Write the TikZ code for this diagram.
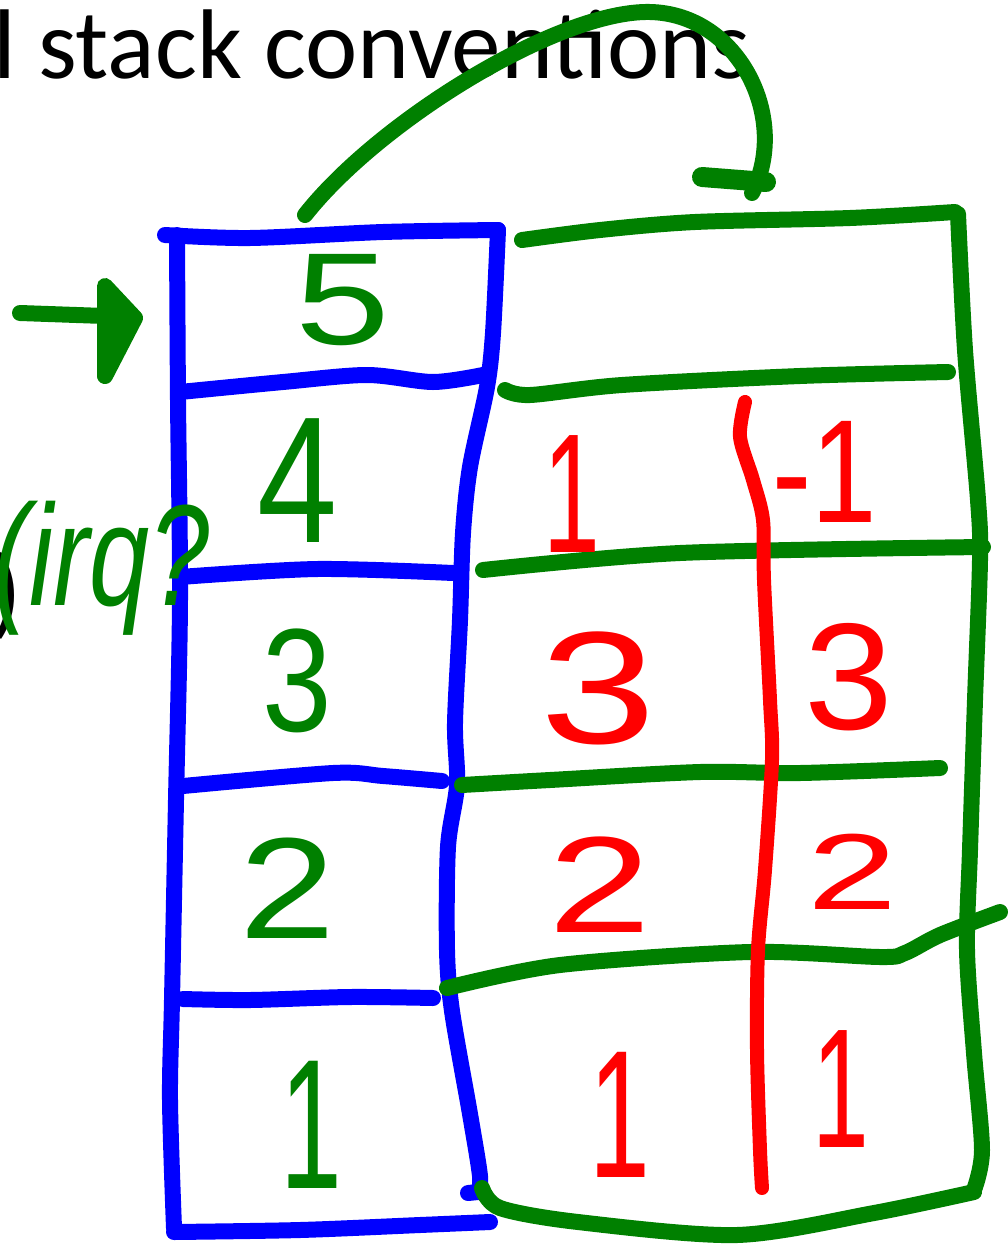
\documentclass[tikz,border=0pt]{standalone}
\usepackage{fontspec}
\setmainfont{Liberation Sans}
\newfontfamily\titlefont{Carlito}
\usepackage{graphicx}
\definecolor{pblue}{RGB}{0,0,255}
\definecolor{pgreen}{RGB}{0,128,0}
\definecolor{pred}{RGB}{255,0,0}
\newcommand{\hwdigit}[2]{\scalebox{#1}[1]{#2}}
\tikzset{
  pen/.style={line width=16pt, line cap=round, line join=round},
  bluepen/.style={pen, draw=pblue},
  greenpen/.style={pen, draw=pgreen},
  redpen/.style={pen, draw=pred, line width=14pt},
  hand/.style={inner sep=0pt, font=\fontsize{#1}{#1}\selectfont},
  gdigit/.style={hand=#1, text=pgreen},
  rdigit/.style={hand=#1, text=pred},
}
\begin{document}
\begin{tikzpicture}[x=1pt,y=-1pt]
\useasboundingbox (0,0) rectangle (1007,1245);
% title (cropped slide text)
\node[inner sep=0pt, anchor=base west, font=\titlefont\fontsize{99}{99}\selectfont] (title) at (-7,78) {l stack conventions};
\node[inner sep=0pt, anchor=base east, font=\titlefont\fontsize{100}{100}\selectfont] (paren) at (22,625) {)};

% blue stack
\draw[bluepen] plot[smooth, tension=0.5] coordinates {(165,235) (250,238) (383,232) (498,230)};
\draw[bluepen] plot[smooth, tension=0.5] coordinates {(498,230) (493,333) (487,387) (470,467) (463,533) (460,620) (455,723) (457,785) (448,847) (447,950) (452,1011) (470,1114) (480,1176) (478,1192)};
\draw[bluepen] (478,1192) -- (468,1193);
\draw[bluepen] plot[smooth, tension=0.5] coordinates {(177,235) (178,400) (180,600) (176,800) (172,1000) (170,1100) (174,1228)};
\draw[bluepen] plot[smooth, tension=0.5] coordinates {(174,1232) (300,1230) (420,1225) (490,1222)};
\draw[bluepen] plot[smooth, tension=0.5] coordinates {(180,392) (283,382) (367,375) (433,382) (483,375)};
\draw[bluepen] plot[smooth, tension=0.5] coordinates {(180,577) (317,569) (453,573)};
\draw[bluepen] plot[smooth, tension=0.5] coordinates {(183,786) (333,773) (383,776) (442,781)};
\draw[bluepen] plot[smooth, tension=0.5] coordinates {(183,999) (250,1000) (350,997) (433,998)};

% green stack
\draw[greenpen] plot[smooth, tension=0.5] coordinates {(522,240) (600,230) (695,222) (850,218) (955,212)};
\draw[greenpen] plot[smooth, tension=0.5] coordinates {(958,214) (965,350) (978,500) (980,560) (975,700) (970,850) (967,950) (974,1053) (982,1150) (974,1190)};
\draw[greenpen] plot[smooth, tension=0.5] coordinates {(482,1188) (500,1208) (578,1222) (737,1235) (874,1213) (974,1192)};
\draw[greenpen] plot[smooth, tension=0.5] coordinates {(505,390) (530,395) (622,385) (800,376) (948,372)};
\draw[greenpen] plot[smooth, tension=0.5] coordinates {(483,570) (680,553) (983,547)};
\draw[greenpen] plot[smooth, tension=0.5] coordinates {(462,785) (550,780) (700,772) (800,773) (940,768)};
\draw[greenpen] plot[smooth, tension=0.5] coordinates {(447,988) (560,965) (750,952) (880,957) (905,953) (940,935) (1000,912)};

% red divider
\draw[redpen] plot[smooth, tension=0.5] coordinates {(745,402) (740,437) (753,480) (763,520) (764,580) (770,700) (772,760) (765,870) (758,950) (757,1050) (760,1150) (762,1188)};

% green digits
\node[gdigit=131] (g5) at (343,300) {\hwdigit{1.3}{5}};
\node[gdigit=180] (g4) at (298,481) {\hwdigit{0.8}{4}};
\node[gdigit=147] (g3) at (297,681) {\hwdigit{0.85}{3}};
\node[gdigit=144] (g2) at (288,888) {\hwdigit{1.2}{2}};
\node[gdigit=185] (g1) at (311,1125) {\hwdigit{0.6}{1}};

% red digits
\node[rdigit=170] (r1a) at (572,494) {\hwdigit{0.6}{1}};
\node[rdigit=147] (r1b) at (825,472) {\hwdigit{0.8}{-1}};
\node[rdigit=160] (r3a) at (598,688) {\hwdigit{1.3}{3}};
\node[rdigit=152] (r3b) at (849,677) {\hwdigit{1.05}{3}};
\node[rdigit=137] (r2a) at (600,885) {\hwdigit{1.35}{2}};
\node[rdigit=108] (r2b) at (853,872) {\hwdigit{1.5}{2}};
\node[rdigit=182] (r1c) at (620,1115) {\hwdigit{0.6}{1}};
\node[rdigit=170] (r1d) at (841,1089) {\hwdigit{0.6}{1}};

% left annotation
\node[inner sep=0pt, anchor=base east, text=pgreen] (irq) at (210,605) {\scalebox{1.2}[1.6]{\fontsize{90}{90}\selectfont\itshape (irq?}};

% left arrow pointing at top slot
\coordinate (la) at (20,313);
\coordinate (lb) at (133,317);
\draw[greenpen] (la) -- (lb);
\draw[greenpen, fill=pgreen] (105,286) -- (135,318) -- (105,376) -- cycle;

% curved arrow from blue stack to green stack
\coordinate (ca) at (305,215);
\coordinate (cm) at (650,12);
\coordinate (cb) at (752,193);
\draw[greenpen] (ca) .. controls (380,120) and (560,10) .. (cm) .. controls (740,14) and (790,120) .. (cb);
\draw[greenpen, line width=20pt] (702,177) -- (766,182);
\end{tikzpicture}
\end{document}
